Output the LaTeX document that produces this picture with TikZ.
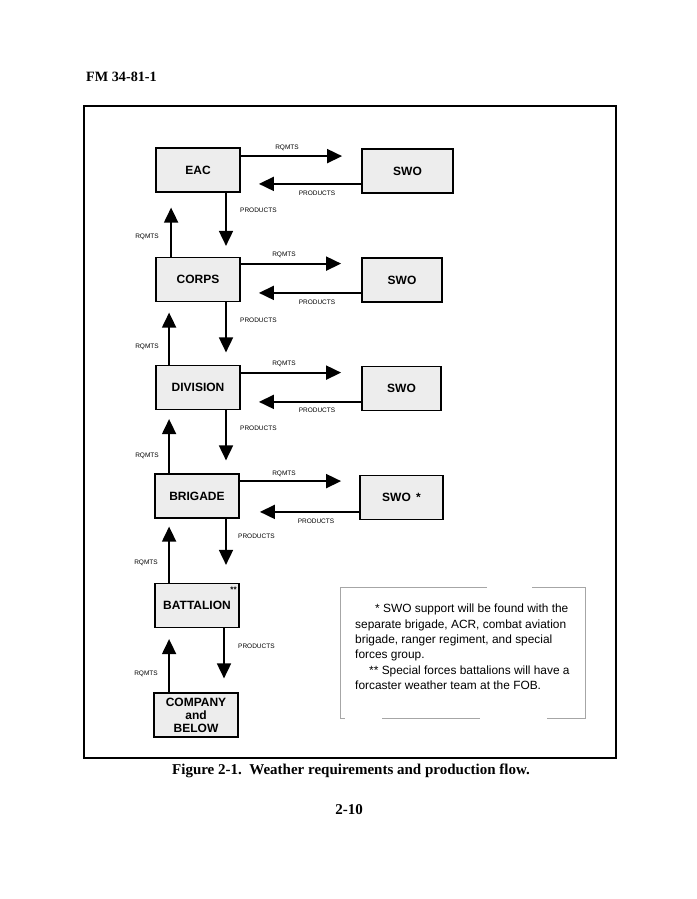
\documentclass[tikz,border=0pt]{standalone}
\usepackage{fontspec}
\setmainfont{Liberation Serif}
\setsansfont{Liberation Sans}
\usetikzlibrary{arrows.meta,calc}
\begin{document}
\begin{tikzpicture}[x=1pt,y=-1pt,
  box/.style={draw, line width=1.8pt, fill=gray!14, font=\sffamily\bfseries\fontsize{12}{13}\selectfont,
    minimum width=84pt, minimum height=44pt, inner sep=0pt, align=center},
  arr/.style={line width=1.8pt, -{Triangle[length=15pt,width=14pt]}},
  lbl/.style={font=\sffamily\fontsize{6.5}{7}\selectfont, inner sep=0pt},
  note/.style={draw=gray!70, line width=0.6pt}]
\useasboundingbox (0,0) rectangle (696,899);
% header
\node[font=\bfseries\fontsize{14.2}{15}\selectfont, anchor=west, inner sep=0pt] (hdr) at (86,77) {FM 34-81-1};
% frame
\draw[line width=1.7pt] (84,106) rectangle (616,758);
% boxes
\node[box] (eac) at (198,170) {EAC};
\node[box] (corps) at (198,279.5) {CORPS};
\node[box] (div) at (198,387.5) {DIVISION};
\node[box] (brig) at (197,496) {BRIGADE};
\node[box] (bat) at (197,605.5) {BATTALION};
\node[box] (comp) at (196,715) {COMPANY\\and\\BELOW};
\node[font=\sffamily\bfseries\fontsize{8}{8}\selectfont, anchor=north east, inner sep=0pt] (batstar) at ($(bat.north east)+(-3,4)$) {**};
\node[box, minimum width=91pt] (swo1) at (407.5,171) {SWO};
\node[box, minimum width=80pt] (swo2) at (402,280) {SWO};
\node[box, minimum width=79pt] (swo3) at (401.5,388.5) {SWO};
\node[box, minimum width=83pt] (swo4) at (401.5,497.5) {SWO \,*};
% level 1
\coordinate (a1) at ($(eac.north east)+(0,9)$);
\coordinate (t1) at ($(swo1.west)+(-19,0)$);
\draw[arr] (a1) -- (a1 -| t1);
\node[lbl] (r1) at (287,148) {RQMTS};
\coordinate (b1) at ($(swo1.south west)+(0,-10)$);
\coordinate (u1) at ($(eac.east)+(18,0)$);
\draw[arr] (b1) -- (b1 -| u1);
\node[lbl] (p1) at (317,193) {PRODUCTS};
\draw[arr] ($(eac.south)+(28,0)$) -- ++(0,53);
\node[lbl, anchor=west] (p1d) at (240,210) {PRODUCTS};
\draw[arr] ($(corps.north west)+(16,0)$) -- ++(0,-49);
\node[lbl] (r1u) at (147,237) {RQMTS};
% level 2
\coordinate (a2) at ($(corps.north east)+(0,7)$);
\coordinate (t2) at ($(swo2.west)+(-20,0)$);
\draw[arr] (a2) -- (a2 -| t2);
\node[lbl] (r2) at (284,255) {RQMTS};
\coordinate (b2) at ($(swo2.south west)+(0,-10)$);
\coordinate (u2) at ($(corps.east)+(18,0)$);
\draw[arr] (b2) -- (b2 -| u2);
\node[lbl] (p2) at (317,302) {PRODUCTS};
\draw[arr] ($(corps.south)+(28,0)$) -- ++(0,50);
\node[lbl, anchor=west] (p2d) at (240,320) {PRODUCTS};
\draw[arr] ($(div.north west)+(14,0)$) -- ++(0,-52);
\node[lbl] (r2u) at (147,347) {RQMTS};
% level 3
\coordinate (a3) at ($(div.north east)+(0,8)$);
\coordinate (t3) at ($(swo3.west)+(-20,0)$);
\draw[arr] (a3) -- (a3 -| t3);
\node[lbl] (r3) at (284,364) {RQMTS};
\coordinate (b3) at ($(swo3.south west)+(0,-9.5)$);
\coordinate (u3) at ($(div.east)+(18,0)$);
\draw[arr] (b3) -- (b3 -| u3);
\node[lbl] (p3) at (317,410) {PRODUCTS};
\draw[arr] ($(div.south)+(28,0)$) -- ++(0,50);
\node[lbl, anchor=west] (p3d) at (240,428) {PRODUCTS};
\draw[arr] ($(brig.north west)+(15,0)$) -- ++(0,-54);
\node[lbl] (r3u) at (147,456) {RQMTS};
% level 4
\coordinate (a4) at ($(brig.north east)+(0,8)$);
\coordinate (t4) at ($(swo4.west)+(-18,0)$);
\draw[arr] (a4) -- (a4 -| t4);
\node[lbl] (r4) at (284,474) {RQMTS};
\coordinate (b4) at ($(swo4.south west)+(0,-8.5)$);
\coordinate (u4) at ($(brig.east)+(20,0)$);
\draw[arr] (b4) -- (b4 -| u4);
\node[lbl] (p4) at (316,521) {PRODUCTS};
\draw[arr] ($(brig.south)+(29,0)$) -- ++(0,46);
\node[lbl, anchor=west] (p4d) at (238,536) {PRODUCTS};
\draw[arr] ($(bat.north west)+(15,0)$) -- ++(0,-56);
\node[lbl] (r4u) at (146,563) {RQMTS};
% level 5
\draw[arr] ($(bat.south)+(27,0)$) -- ++(0,50);
\node[lbl, anchor=west] (p5d) at (238,646) {PRODUCTS};
\draw[arr] ($(comp.north west)+(16,0)$) -- ++(0,-53);
\node[lbl] (r5u) at (146,674) {RQMTS};
% note box
\draw[note] (487,587) -- (340,587) -- (340,718) -- (345,718);
\draw[note] (532,587) -- (585,587) -- (585,718) -- (547,718);
\draw[note] (382,718) -- (480,718);
\node[font=\sffamily\fontsize{11.9}{15.3}\selectfont, anchor=north west, align=left, inner sep=0pt] (notetext) at (355,604)
 {\hspace*{20pt}* SWO support will be found with the\\
  separate brigade, ACR, combat aviation\\
  brigade, ranger regiment, and special\\
  forces group.\\
  \hspace*{14pt}** Special forces battalions will have a\\
  forcaster weather team at the FOB.};
% caption
\node[font=\bfseries\fontsize{15}{16}\selectfont, inner sep=0pt] (cap) at (351,771) {Figure 2-1.\ \ Weather requirements and production flow.};
\node[font=\bfseries\fontsize{15}{16}\selectfont, inner sep=0pt] (pg) at (349,810) {2-10};
\end{tikzpicture}
\end{document}
